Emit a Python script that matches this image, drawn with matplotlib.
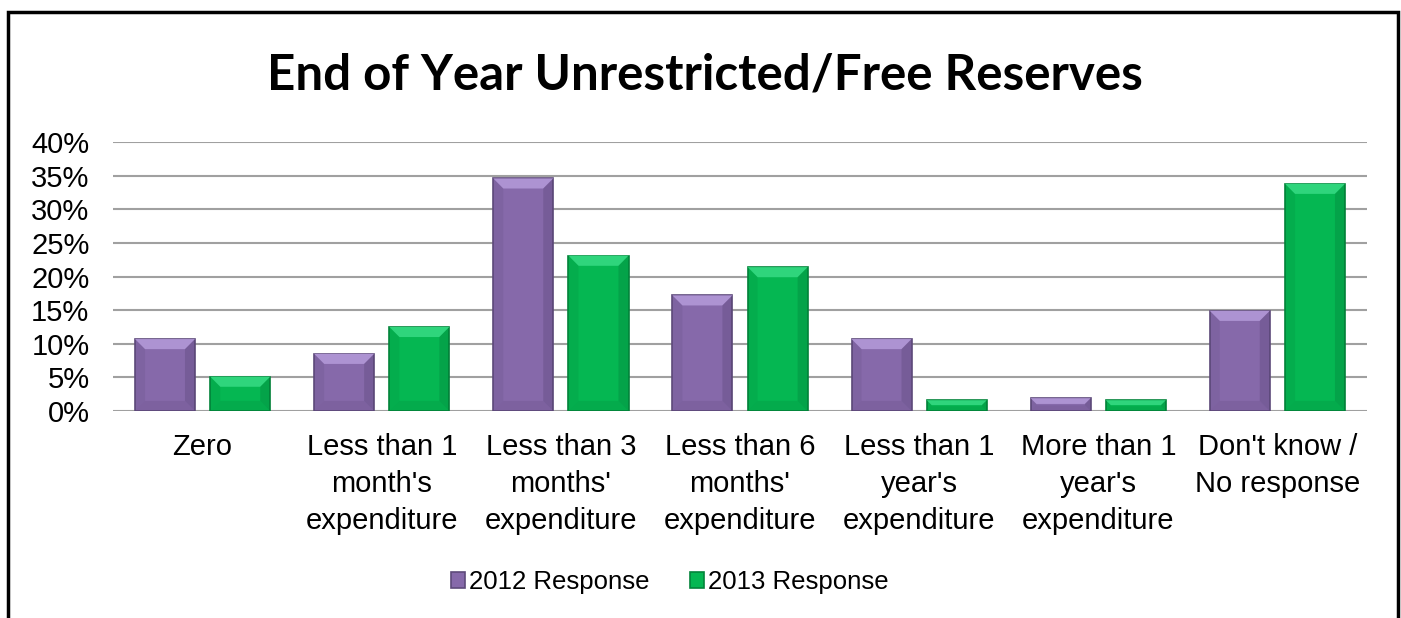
import numpy as np
import matplotlib.pyplot as plt
from matplotlib.patches import Rectangle, Polygon
from matplotlib.ticker import PercentFormatter

categories = ['Zero', "Less than 1\nmonth's\nexpenditure", "Less than 3\nmonths'\nexpenditure",
              "Less than 6\nmonths'\nexpenditure", "Less than 1\nyear's\nexpenditure",
              "More than 1\nyear's\nexpenditure", "Don't know /\nNo response"]
resp_2012 = [10.7, 8.5, 34.6, 17.2, 10.7, 1.9, 14.9]
resp_2013 = [5.1, 12.5, 23.1, 21.4, 1.6, 1.6, 33.8]
series = ['2012 Response', '2013 Response']

purple = '#8669aa'
green = '#05b752'
purple_edge = '#5e4a7a'
green_edge = '#03843b'

plt.rcParams['font.family'] = ['Liberation Sans', 'DejaVu Sans']

fig = plt.figure(figsize=(14.01, 6.18), dpi=100)
ax = fig.add_axes([0.0807, 0.335, 0.895, 0.435])

x = np.arange(len(categories))
w = 0.335
off = 0.21


def bevel(ax, bars, light, dark):
    # bevelled look: light strip on top, faint darker strips on the sides and bottom
    for b in bars:
        x0, y0 = b.get_x(), b.get_y()
        bw, bh = b.get_width(), b.get_height()
        dy = min(1.5, bh * 0.45)
        dx = 0.056 * dy / 1.5
        x1, y1 = x0 + bw, y0 + bh
        kw = dict(closed=True, edgecolor='none', zorder=4)
        ax.add_patch(Polygon([(x0, y1), (x1, y1), (x1 - dx, y1 - dy), (x0 + dx, y1 - dy)],
                             facecolor=light, **kw))
        ax.add_patch(Polygon([(x0, y0), (x1, y0), (x1 - dx, y0 + dy), (x0 + dx, y0 + dy)],
                             facecolor=dark, alpha=0.15, **kw))
        ax.add_patch(Polygon([(x0, y0), (x0 + dx, y0 + dy), (x0 + dx, y1 - dy), (x0, y1)],
                             facecolor=dark, alpha=0.12, **kw))
        ax.add_patch(Polygon([(x1, y0), (x1 - dx, y0 + dy), (x1 - dx, y1 - dy), (x1, y1)],
                             facecolor=dark, alpha=0.25, **kw))


b1 = ax.bar(x - off, resp_2012, w, color=purple, edgecolor=purple_edge, linewidth=1.2,
            label=series[0], zorder=3)
b2 = ax.bar(x + off, resp_2013, w, color=green, edgecolor=green_edge, linewidth=1.2,
            label=series[1], zorder=3)
bevel(ax, b1, '#ad93d2', '#4a3866')
bevel(ax, b2, '#2fd57c', '#026b30')

ax.set_xlim(-0.5, len(categories) - 0.5)
ax.set_ylim(0, 40)
ax.set_yticks(np.arange(0, 41, 5))
ax.yaxis.set_major_formatter(PercentFormatter(decimals=0))
ax.grid(axis='y', color='#a0a0a0', linewidth=1.5, zorder=0)
ax.set_axisbelow(True)
for s in ax.spines.values():
    s.set_visible(False)
ax.tick_params(axis='y', length=0, pad=17, labelsize=21)
ax.tick_params(axis='x', length=0, pad=16, labelsize=21)
ax.set_xticks(x)
ax.set_xticklabels(categories, linespacing=1.4)

fig.text(0.503, 0.878, 'End of Year Unrestricted/Free Reserves', ha='center', va='center',
         fontsize=35.5, fontweight='bold', family=['Lato', 'DejaVu Sans'])

leg = fig.legend(handles=[b1, b2], loc='center', bbox_to_anchor=(0.478, 0.058), ncol=2,
                 frameon=False, fontsize=18.5, handlelength=0.55, handleheight=0.55,
                 handletextpad=0.15, columnspacing=1.6)

# outer frame
fig.patches.append(Rectangle((8 / 1401, -0.05), 1390 / 1401, 1.05 - 12 / 618,
                             transform=fig.transFigure, fill=False, edgecolor='black',
                             linewidth=2.5))

fig.savefig('out.png', dpi=100)
